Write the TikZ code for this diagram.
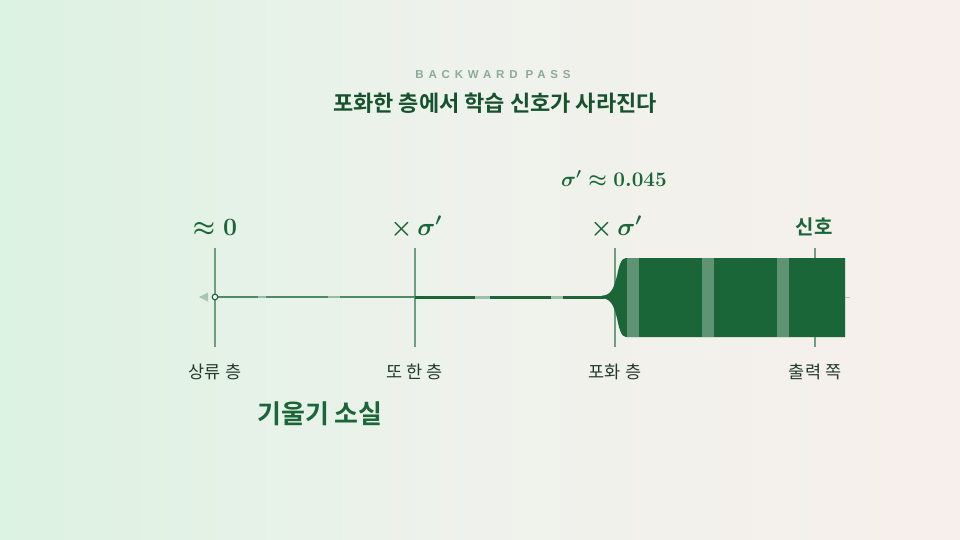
\documentclass[tikz,border=0pt]{standalone}
\usepackage{fontspec}
\setmainfont{Latin Modern Roman}
\newfontfamily\kr{Noto Sans CJK KR}
\newfontfamily\krb{Noto Sans CJK KR Bold}
\newfontfamily\lsans[LetterSpace=42]{Liberation Sans}
\usetikzlibrary{calc}
\definecolor{bgL}{HTML}{DCF2E2}
\definecolor{bgM}{HTML}{EFF2EC}
\definecolor{bgR}{HTML}{F7EFEB}
\definecolor{gDark}{HTML}{1A6638}
\definecolor{gMid}{HTML}{4F8C66}
\definecolor{gTick}{HTML}{6C9E80}
\definecolor{gStripe}{HTML}{5E9473}
\definecolor{gLight}{HTML}{A9C6B2}
\definecolor{gTitle}{HTML}{8CAA97}
\definecolor{txtDark}{HTML}{233B2C}
\tikzset{
  tickline/.style={draw=gTick, line width=1.3pt},
  mathlbl/.style={text=gDark, font=\fontsize{24.5}{26}\selectfont\boldmath, inner sep=0pt, anchor=base},
  layerlbl/.style={text=txtDark, font=\kr\fontsize{17.5}{19}\selectfont, inner sep=0pt, anchor=base},
  stripe/.style={fill=gStripe},
}
\begin{document}
\begin{tikzpicture}[x=1pt,y=-1pt]
% background
\shade[left color=bgL, right color=bgR, middle color=bgM, shading angle=90] (0,0) rectangle (960,540);
\path[use as bounding box] (0,0) rectangle (960,540);

% titles
\node[text=gTitle, font=\lsans\bfseries\fontsize{11.5}{13}\selectfont, inner sep=0pt] (kicker) at (493,75) {BACKWARD PASS};
\node[text=gDark!80!black, font=\krb\fontsize{22}{24}\selectfont, inner sep=0pt] (title) at (495,103) {포화한 층에서 학습 신호가 사라진다};

% coordinates
\coordinate (t1) at (215,248); \coordinate (b1) at (215,347);
\coordinate (t2) at (415,248); \coordinate (b2) at (415,347);
\coordinate (t3) at (615,248); \coordinate (b3) at (615,347);
\coordinate (t4) at (815,248); \coordinate (b4) at (815,347);
\coordinate (axL) at (215,297);
\coordinate (axM) at (415,297);
\coordinate (axS) at (604,297);
\coordinate (axE) at (850,297);
\coordinate (arrT) at (199,297);

% faint right extension
\draw[gLight, line width=0.8pt] (axS) -- (axE);

% vertical tick lines
\draw[tickline] (t1) -- (b1);
\draw[tickline] (t2) -- (b2);
\draw[tickline] (t3) -- (b3);

% thin line
\draw[gMid, line width=1.6pt] (axL) -- (axM);
\draw[gLight!60!white, line width=1.6pt, opacity=0.6] (258,297) -- (266,297);
\draw[gLight!60!white, line width=1.6pt, opacity=0.6] (328,297) -- (340,297);
% thicker line
\draw[gDark, line width=3pt] (axM) -- (axS);
\draw[gStripe!60!white, line width=3pt] (475,297) -- (490,297);
\draw[gStripe!60!white, line width=3pt] (551,297) -- (563,297);

% band with flare
\fill[gDark] (602,295.6) .. controls (612,295.6) and (614,286) .. (617,276)
  .. controls (619,266) and (621,258) .. (626,258) -- (845,258) -- (845,337) -- (626,337)
  .. controls (621,337) and (619,328) .. (617,318)
  .. controls (614,308) and (612,298.4) .. (602,298.4) -- cycle;
\fill[stripe] (627,258) rectangle (639,337);
\fill[stripe] (702,258) rectangle (714,337);
\fill[stripe] (777,258) rectangle (789,337);
\draw[tickline] (t4) -- (815,258);
\draw[tickline] (815,337) -- (b4);

% left arrow and start circle
\fill[gLight] (arrT) -- (208,292.5) -- (208,301.5) -- cycle;
\draw[gDark, line width=1.2pt, fill=white] (axL) circle (2.8);

% math labels
\node[mathlbl] (l1) at (215,235) {$\approx 0$};
\node[mathlbl] (l2) at (416,235) {$\times\,\sigma'$};
\node[mathlbl] (l3) at (616,235) {$\times\,\sigma'$};
\node[text=gDark, font=\krb\fontsize{20}{22}\selectfont, inner sep=0pt, anchor=base] (l4) at (814,234) {신호};
\node[text=gDark, font=\fontsize{22.5}{24}\selectfont\boldmath, inner sep=0pt, anchor=base] (sig) at (614,186) {$\sigma' \approx 0.045$};

% layer labels
\node[layerlbl] (n1) at (215,378) {상류 층};
\node[layerlbl] (n2) at (415,378) {또 한 층};
\node[layerlbl] (n3) at (615,378) {포화 층};
\node[layerlbl] (n4) at (815,378) {출력 쪽};

% vanishing gradient
\node[text=gDark, font=\krb\fontsize{26}{28}\selectfont, inner sep=0pt] (vg) at (320,414) {기울기 소실};
\end{tikzpicture}
\end{document}
